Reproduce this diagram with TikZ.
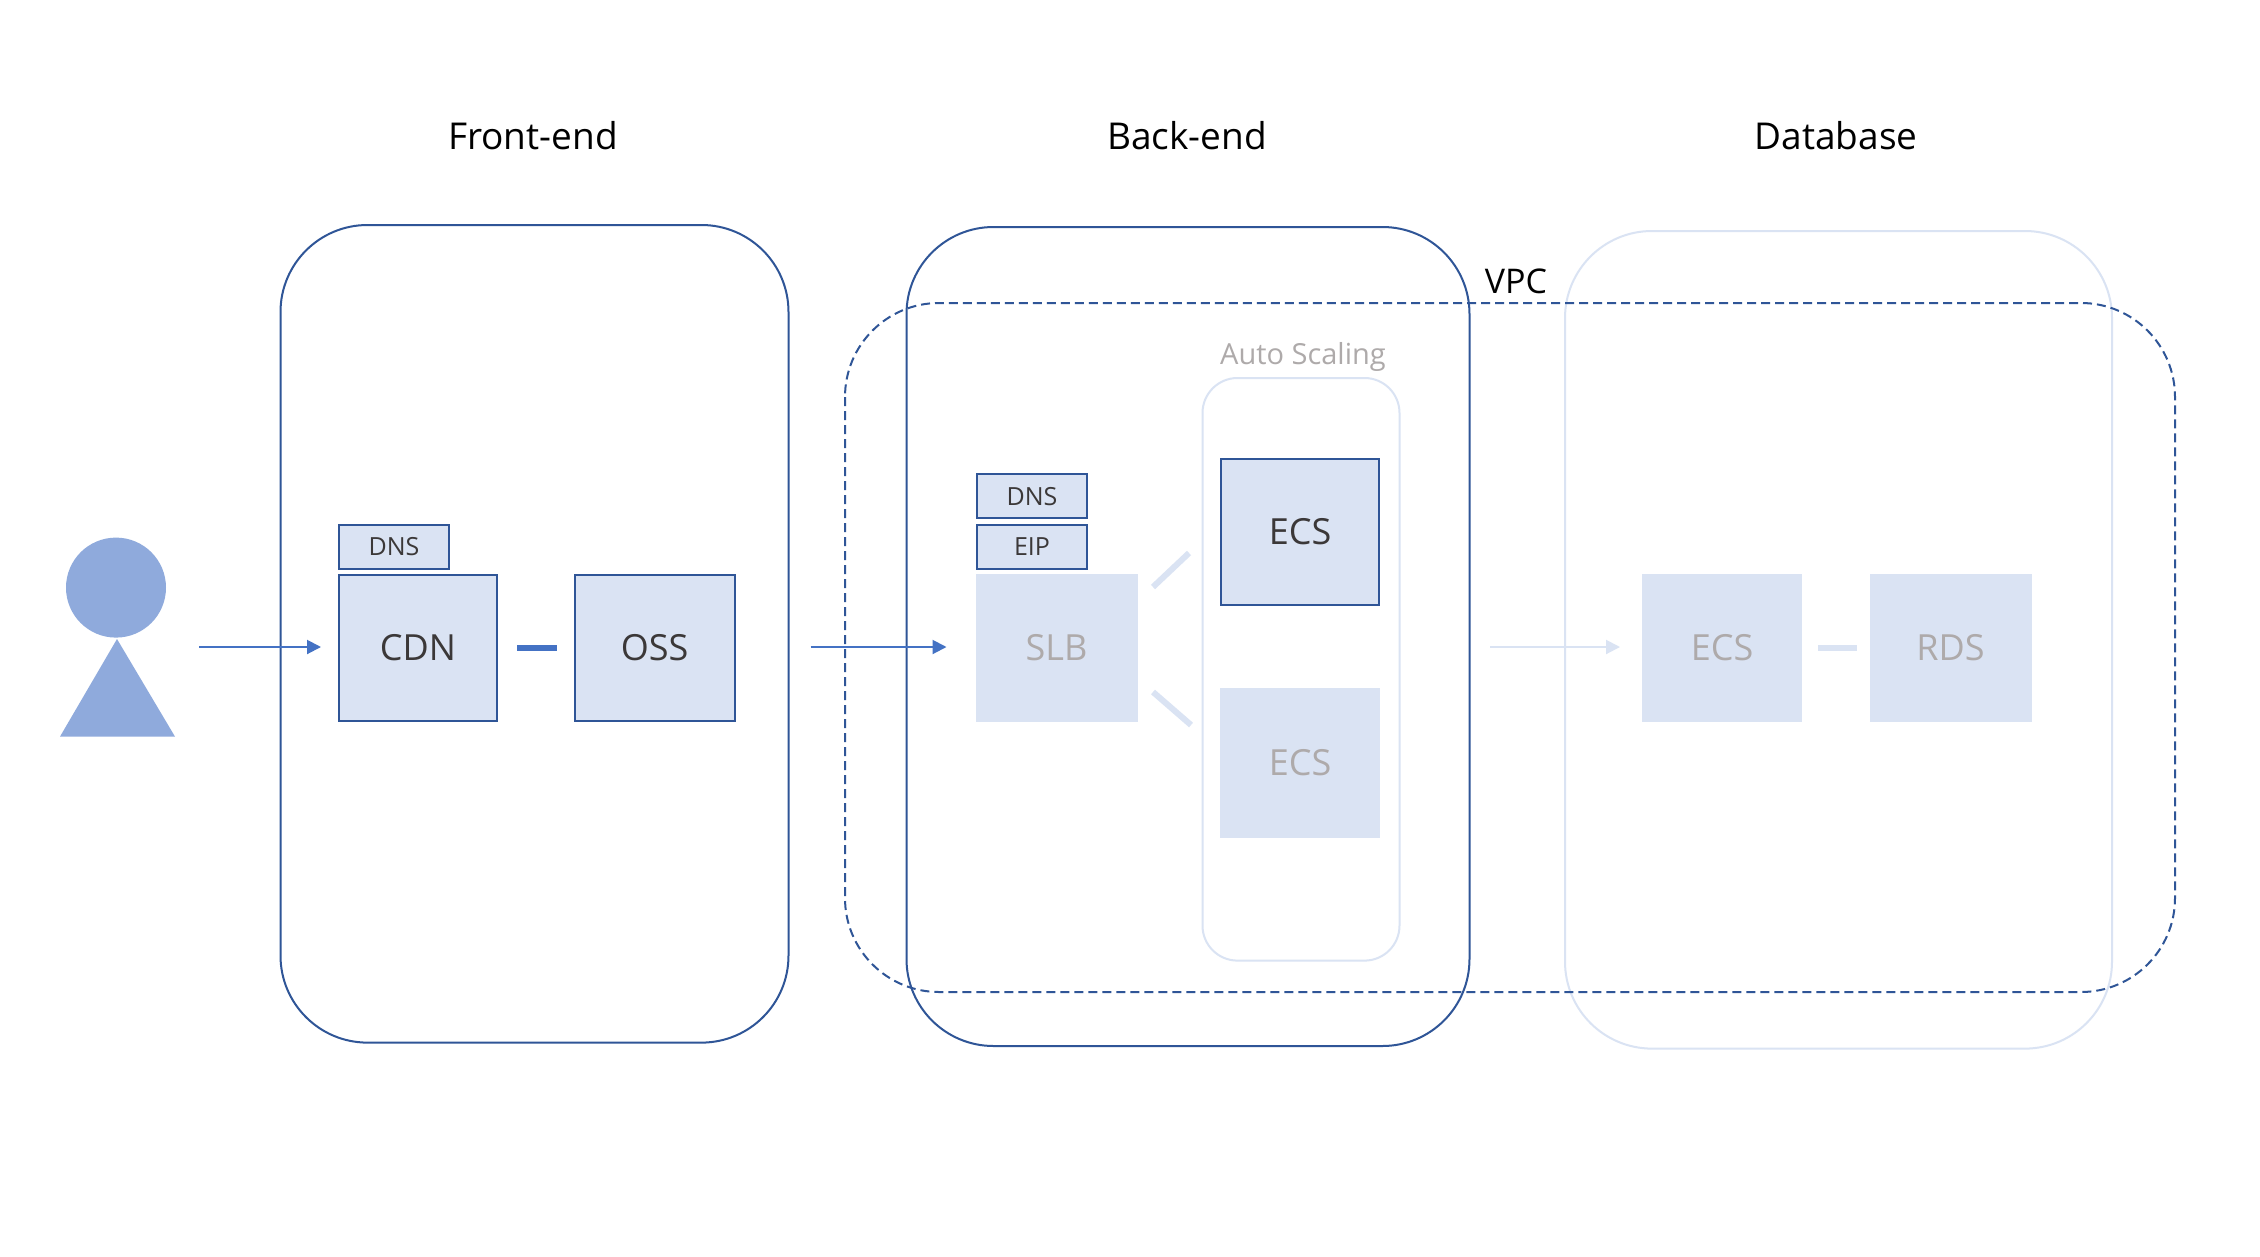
\documentclass[tikz,border=0pt]{standalone}
\usepackage{fontspec}
\setmainfont{Open Sans}
\usetikzlibrary{arrows.meta}
\definecolor{darkblue}{HTML}{2F5597}
\definecolor{paleblue}{HTML}{DAE3F3}
\definecolor{arrowblue}{HTML}{4472C4}
\definecolor{personblue}{HTML}{8FAADC}
\definecolor{greytext}{HTML}{AEAAAA}
\definecolor{darktext}{HTML}{3B3838}
\tikzset{
  every node/.style={inner sep=0pt,outer sep=0pt},
  zone/.style={line width=2pt,rounded corners=87pt},
  activebox/.style={draw=darkblue,line width=2.2pt,fill=paleblue,text=darktext,font=\fontsize{36}{40}\selectfont},
  palebox/.style={fill=paleblue,text=greytext,font=\fontsize{36}{40}\selectfont},
  tagbox/.style={draw=darkblue,line width=2.2pt,fill=paleblue,text=darktext,font=\fontsize{25}{28}\selectfont,minimum width=110pt,minimum height=44pt},
  headlabel/.style={text=black,font=\fontsize{37}{41}\selectfont},
  flow/.style={line width=2pt,color=arrowblue,-{Triangle[length=14pt,width=14pt]}},
  link/.style={line width=6pt,color=arrowblue},
  palelink/.style={line width=6pt,color=paleblue}
}
\begin{document}
\begin{tikzpicture}[x=1pt,y=-1pt]
\useasboundingbox (0,0) rectangle (2260,1256);
\fill[white] (0,0) rectangle (2260,1256);
% zones
\draw[zone,draw=darkblue] (280.5,225) rectangle (788.5,1042.6);
\draw[zone,draw=darkblue] (906.5,227) rectangle (1469.5,1046);
\draw[zone,draw=paleblue] (1565,231) rectangle (2112,1048.6);
\draw[draw=darkblue,line width=2pt,dash pattern=on 9pt off 5pt,rounded corners=94pt] (845,303) rectangle (2175,992);
\draw[draw=paleblue,line width=2pt,rounded corners=35pt] (1202.5,378) rectangle (1399.5,960.6);
% headings
\node[headlabel] (front) at (533,136) {Front-end};
\node[headlabel] (back) at (1187,136) {Back-end};
\node[headlabel] (data) at (1836,136) {Database};
\node[text=black,font=\fontsize{34}{38}\selectfont] (vpc) at (1516,281) {VPC};
\node[text=greytext,font=\fontsize{29}{32}\selectfont] (auto) at (1303,356.5) {Auto Scaling};
% person
\node[circle,fill=personblue,minimum size=100pt] (head) at (116,587.6) {};
\path[fill=personblue] (117,639) coordinate (apex) -- (175,736.6) coordinate (bodyr) -- (60,736.6) coordinate (bodyl) -- cycle;
% front-end
\node[tagbox] (dnsa) at (394,546.6) {DNS};
\node[activebox,minimum width=158pt,minimum height=146pt] (cdn) at (418,647.6) {CDN};
\node[activebox,minimum width=160pt,minimum height=146pt] (oss) at (654.6,647.6) {OSS};
% back-end
\node[tagbox] (dnsb) at (1032,496.1) {DNS};
\node[tagbox] (eip) at (1032,546.6) {EIP};
\node[palebox,minimum width=162pt,minimum height=148pt] (slb) at (1056.5,647.6) {SLB};
\node[activebox,minimum width=158pt,minimum height=146pt] (ecsa) at (1300,531.6) {ECS};
\node[palebox,minimum width=160pt,minimum height=150pt] (ecsb) at (1300,762.6) {ECS};
% database
\node[palebox,minimum width=160pt,minimum height=148pt] (ecsc) at (1722,647.6) {ECS};
\node[palebox,minimum width=162pt,minimum height=148pt] (rds) at (1950.5,647.6) {RDS};
% connectors
\coordinate (usr) at (199,647);
\coordinate (edge) at (810.5,647);
\coordinate (vpcin) at (1490,647);
\coordinate (up1) at (1153,587);
\coordinate (up2) at (1189,553);
\coordinate (dn1) at (1153,692);
\coordinate (dn2) at (1191,725);
\draw[flow,shorten >=18pt] (usr) -- (usr -| cdn.west);
\draw[flow,shorten >=29pt] (edge) -- (edge -| slb.west);
\draw[flow,color=paleblue,shorten >=22pt] (vpcin) -- (vpcin -| ecsc.west);
\draw[link,shorten <=20pt,shorten >=18pt] (cdn) -- (oss);
\draw[palelink] (up1) -- (up2);
\draw[palelink] (dn1) -- (dn2);
\draw[palelink,shorten <=16pt,shorten >=13pt] (ecsc) -- (rds);
\end{tikzpicture}
\end{document}
